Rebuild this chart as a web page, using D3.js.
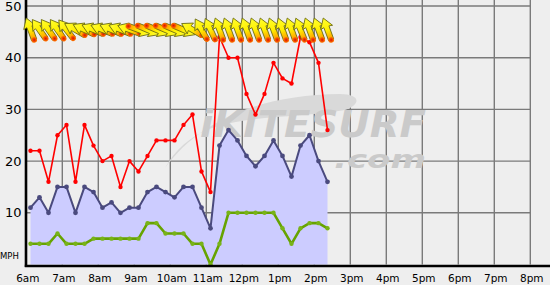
<!DOCTYPE html>
<html><head><meta charset="utf-8">
<script src="https://cdn.jsdelivr.net/npm/d3@7"></script>
<style>html,body{margin:0;padding:0;background:#eeeeee;overflow:hidden;} svg{display:block;}</style>
</head><body><svg id="c" width="550" height="285"></svg>
<script>
// ---- data ----
const times = ["06:07","06:22","06:37","06:52","07:07","07:22","07:37","07:52","08:07","08:22","08:37","08:52",
  "09:07","09:22","09:37","09:52","10:07","10:22","10:37","10:52","11:07","11:22","11:37","11:52",
  "12:07","12:22","12:37","12:52","13:07","13:22","13:37","13:52","14:07","14:22"];
const gust = [22,22,16,25,27,16,27,23,20,21,15,20,18,21,24,24,24,27,29,18,14,44,40,40,33,29,33,39,36,35,44,43,39,26];
const avg  = [11,13,10,15,15,10,15,14,11,12,10,11,11,14,15,14,13,15,15,11,7,23,26,24,21,19,21,24,21,17,23,25,20,16];
const lull = [4,4,4,6,4,4,4,5,5,5,5,5,5,8,8,6,6,6,4,4,0,4,10,10,10,10,10,10,7,4,7,8,8,7];
const dirDeg = [340,325,325,325,322,300,295,293,292,293,292,290,110,113,113,113,113,113,300,330,335,340,340,340,
  340,340,340,340,340,340,338,340,340,340];
const hourTicks = [6,7,8,9,10,11,12,13,14,15,16,17,18,19,20];
const hourLabels = ["6am","7am","8am","9am","10am","11am","12pm","1pm","2pm","3pm","4pm","5pm","6pm","7pm","8pm"];
const yTicks = [10,20,30,40,50];
const yLabels = ["10","20","30","40","50"];
const unitLabel = "MPH";
const arrowLevel = 45.4;

// ---- scales ----
const toHour = s => { const [h,m] = s.split(":").map(Number); return h + m/60; };
const x = d3.scaleLinear().domain([6,20]).range([26.3,530.3]);
const y = d3.scaleLinear().domain([0,50]).range([264.5,6]);
const svg = d3.select("#c");

svg.append("rect").attr("width",550).attr("height",285).attr("fill","#eeeeee");

// grid
const grid = svg.append("g").attr("stroke","#7a7a7a").attr("stroke-width",1.4);
grid.selectAll("line.h").data(yTicks).join("line")
  .attr("x1",x(6)).attr("x2",x(20)).attr("y1",d=>y(d)).attr("y2",d=>y(d));
grid.selectAll("line.v").data(hourTicks.slice(1)).join("line")
  .attr("x1",d=>x(d)).attr("x2",d=>x(d)).attr("y1",0).attr("y2",y(0));

// watermark
const wm = svg.append("g");
wm.append("path").attr("fill","#d9d9d9")
  .attr("d","M165,168 C200,120 260,95 340,94 C360,94 362,104 345,110 C300,118 250,115 212,128 C190,136 175,150 165,168 Z");
wm.append("text").attr("x",200).attr("y",137).attr("font-family","DejaVu Sans").attr("font-weight","bold")
  .attr("font-style","italic").attr("font-size",37).attr("fill","#cacaca")
  .attr("textLength",226).attr("lengthAdjust","spacingAndGlyphs").text("iKITESURF");
wm.append("text").attr("x",334).attr("y",168).attr("font-family","DejaVu Sans").attr("font-weight","bold")
  .attr("font-style","italic").attr("font-size",24).attr("fill","#cacaca")
  .attr("textLength",92).attr("lengthAdjust","spacingAndGlyphs").text(".com");

const pts = times.map((t,i)=>({t:toHour(t), g:gust[i], a:avg[i], l:lull[i], d:dirDeg[i]}));

// avg area
svg.append("path").datum(pts).attr("fill","#ccccff")
  .attr("d", d3.area().x(d=>x(d.t)).y0(y(0)).y1(d=>y(d.a)));

function series(key, color, width, r, dotColor){
  svg.append("path").datum(pts).attr("fill","none").attr("stroke",color).attr("stroke-width",width)
    .attr("stroke-linejoin","round").attr("d", d3.line().x(d=>x(d.t)).y(d=>y(d[key])));
  svg.append("g").selectAll("circle").data(pts).join("circle")
    .attr("cx",d=>x(d.t)).attr("cy",d=>y(d[key])).attr("r",r).attr("fill",dotColor);
}
series("l","#66a300",2.6,2.2,"#78b318");
series("a","#4a4a7e",2,2.4,"#4a4a7e");
series("g","#ff0000",1.6,2.2,"#ff0000");

// axes
svg.append("line").attr("x1",x(6)-0.3).attr("x2",x(6)-0.3).attr("y1",0).attr("y2",267).attr("stroke","#000").attr("stroke-width",2.6);
svg.append("line").attr("x1",x(6)-1.5).attr("x2",550).attr("y1",y(0)+1.5).attr("y2",y(0)+1.5).attr("stroke","#000").attr("stroke-width",2.6);

svg.append("g").selectAll("text").data(yTicks).join("text")
  .attr("x",21.5).attr("y",d=>y(d)).attr("dy","0.36em").attr("text-anchor","end")
  .attr("font-family","DejaVu Sans").attr("font-size",13).attr("fill","#000").text((d,i)=>yLabels[i]);
svg.append("text").attr("x",0).attr("y",258.5).attr("font-family","DejaVu Sans").attr("font-size",8.5).text(unitLabel);
svg.append("g").selectAll("text").data(hourTicks).join("text")
  .attr("x",d=>x(d)+1.5).attr("y",281.5).attr("text-anchor","middle")
  .attr("font-family","DejaVu Sans").attr("font-size",10.5).attr("fill","#000").text((d,i)=>hourLabels[i]);

// arrows
const defs = svg.append("defs");
const lg = defs.append("linearGradient").attr("id","ag").attr("x1",0).attr("y1",0).attr("x2",0).attr("y2",1);
lg.append("stop").attr("offset",0).attr("stop-color","#ffff30");
lg.append("stop").attr("offset",0.55).attr("stop-color","#ffee00");
lg.append("stop").attr("offset",1).attr("stop-color","#ff9000");
const rg = defs.append("radialGradient").attr("id","dg");
rg.append("stop").attr("offset",0).attr("stop-color","#dd1000");
rg.append("stop").attr("offset",1).attr("stop-color","#ff7a00");
const ag = svg.append("g");
const arr = ag.selectAll("g").data(pts).join("g")
  .attr("transform",d=>`translate(${x(d.t)},${y(arrowLevel)}) rotate(${d.d})`);
arr.append("path").attr("d","M0,-12.5 L6.3,-2.5 L2.7,-3.2 L2.7,10.8 L-2.7,10.8 L-2.7,-3.2 L-6.3,-2.5 Z")
  .attr("fill","url(#ag)").attr("stroke","#6a6a10").attr("stroke-width",0.8).attr("stroke-linejoin","round");
arr.append("circle").attr("cx",0).attr("cy",10.8).attr("r",2.8).attr("fill","url(#dg)");
</script></body></html>
